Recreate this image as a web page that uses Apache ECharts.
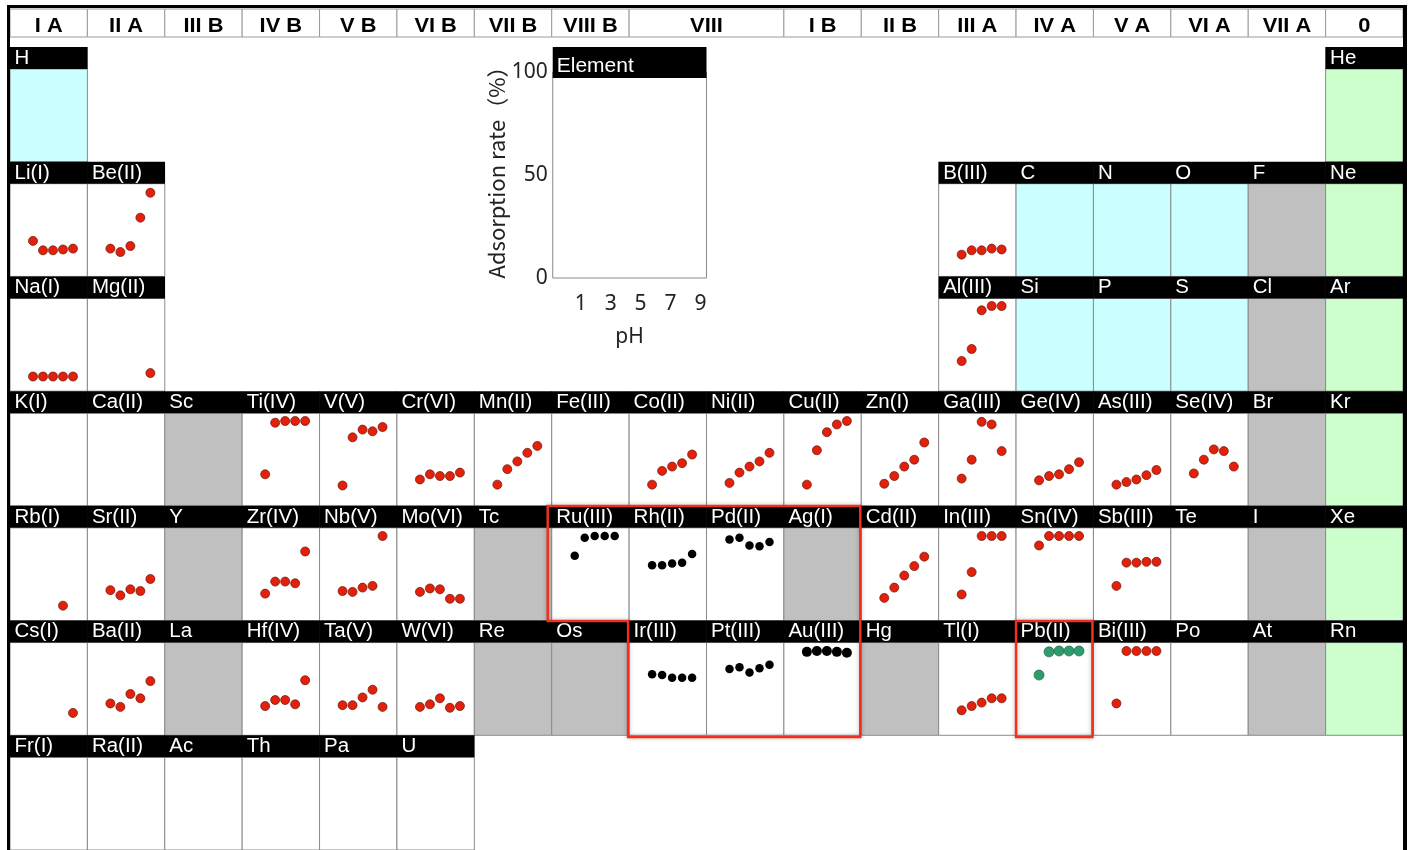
<!DOCTYPE html>
<html><head><meta charset="utf-8">
<script src="https://cdn.jsdelivr.net/npm/echarts@6/dist/echarts.min.js"></script>
<style>html,body{margin:0;padding:0;background:#fff}#chart{width:1409px;height:850px}</style>
</head><body><div id="chart"></div>
<script>
// ---------------- DATA ----------------
const pH = [1, 3, 5, 7, 9];
const legendTicks = [1, 3, 5, 7, 9];
const legendYTicks = [0, 50, 100];

const groupLabels = ['I A','II A','III B','IV B','V B','VI B','VII B','VIII B','VIII','I B','II B','III A','IV A','V A','VI A','VII A','0'];
const groupSpans  = [1,1,1,1,1,1,1,1,2,1,1,1,1,1,1,1,1];

const period1 = ['H','','','','','','','','','','','','','','','','','He'];
const period2 = ['Li(I)','Be(II)','','','','','','','','','','','B(III)','C','N','O','F','Ne'];
const period3 = ['Na(I)','Mg(II)','','','','','','','','','','','Al(III)','Si','P','S','Cl','Ar'];
const period4 = ['K(I)','Ca(II)','Sc','Ti(IV)','V(V)','Cr(VI)','Mn(II)','Fe(III)','Co(II)','Ni(II)','Cu(II)','Zn(I)','Ga(III)','Ge(IV)','As(III)','Se(IV)','Br','Kr'];
const period5 = ['Rb(I)','Sr(II)','Y','Zr(IV)','Nb(V)','Mo(VI)','Tc','Ru(III)','Rh(II)','Pd(II)','Ag(I)','Cd(II)','In(III)','Sn(IV)','Sb(III)','Te','I','Xe'];
const period6 = ['Cs(I)','Ba(II)','La','Hf(IV)','Ta(V)','W(VI)','Re','Os','Ir(III)','Pt(III)','Au(III)','Hg','Tl(I)','Pb(II)','Bi(III)','Po','At','Rn'];
const period7 = ['Fr(I)','Ra(II)','Ac','Th','Pa','U','','','','','','','','','','','',''];
// cell class: w = tested metal, c = non-metal, g = not examined, n = noble gas, . = no cell
const period1Class = 'c................n';
const period2Class = 'ww..........wcccgn';
const period3Class = 'ww..........wcccgn';
const period4Class = 'wwgwwwwwwwwwwwwwgn';
const period5Class = 'wwgwwwgwwwgwwwwwgn';
const period6Class = 'wwgwwwggwwwgwwwwgn';
const period7Class = 'wwwwww............';

// adsorption rate (%) at pH 1,3,5,7,9
const rateLi = [42, 31, 31, 32, 33];
const rateBe = [33, 29, 36, 69, 98];
const rateB  = [26, 31, 31, 33, 32];
const rateNa = [18, 18, 18, 18, 18];
const rateMg = [null, null, null, null, 22];
const rateAl = [36, 50, 95, 100, 100];
const rateTi = [38, 98, 100, 100, 100];
const rateV  = [25, 81, 90, 88, 93];
const rateCr = [32, 38, 36, 36, 40];
const rateMn = [26, 44, 53, 63, 71];
const rateCo = [26, 42, 47, 51, 61];
const rateNi = [28, 40, 47, 53, 63];
const rateCu = [26, 66, 87, 96, 100];
const rateZn = [27, 36, 47, 55, 75];
const rateGa = [33, 55, 99, 96, 65];
const rateGe = [31, 36, 38, 44, 52];
const rateAs = [26, 29, 32, 37, 43];
const rateSe = [39, 55, 67, 65, 47];
const rateRb = [null, null, null, 19, null];
const rateSr = [37, 31, 38, 36, 50];
const rateZr = [33, 47, 47, 45, 82];
const rateNb = [36, 35, 40, 42, 100];
const rateMo = [35, 39, 38, 27, 27];
const rateRu = [77, 98, 100, 100, 100];
const rateRh = [66, 66, 68, 69, 79];
const ratePd = [96, 98, 89, 88, 93];
const rateCd = [28, 40, 54, 65, 76];
const rateIn = [32, 58, 100, 100, 100];
const rateSn = [89, 100, 100, 100, 100];
const rateSb = [42, 69, 69, 70, 70];
const rateCs = [null, null, null, null, 28];
const rateBa = [39, 35, 50, 45, 65];
const rateHf = [36, 43, 43, 38, 66];
const rateTa = [37, 37, 46, 55, 35];
const rateW  = [35, 38, 45, 34, 36];
const rateIr = [73, 72, 69, 69, 69];
const ratePt = [79, 81, 75, 80, 84];
const rateAu = [99, 100, 100, 99, 98];
const rateTl = [31, 36, 40, 45, 45];
const ratePb = [72, 99, 100, 100, 100];
const rateBi = [39, 100, 100, 100, 100];

const preciousMetals = ['Ru(III)','Rh(II)','Pd(II)','Ir(III)','Pt(III)','Au(III)'];
const leadGroup = ['Pb(II)'];
const preciousBlock = [['Ru(III)','Rh(II)','Pd(II)','Ag(I)'], ['Ir(III)','Pt(III)','Au(III)']];
const leadBlock = ['Pb(II)'];

// ---------------- LAYOUT ----------------
const rateByElement = {
  'Li(I)': rateLi, 'Be(II)': rateBe, 'B(III)': rateB, 'Na(I)': rateNa, 'Mg(II)': rateMg, 'Al(III)': rateAl,
  'Ti(IV)': rateTi, 'V(V)': rateV, 'Cr(VI)': rateCr, 'Mn(II)': rateMn, 'Co(II)': rateCo, 'Ni(II)': rateNi,
  'Cu(II)': rateCu, 'Zn(I)': rateZn, 'Ga(III)': rateGa, 'Ge(IV)': rateGe, 'As(III)': rateAs, 'Se(IV)': rateSe,
  'Rb(I)': rateRb, 'Sr(II)': rateSr, 'Zr(IV)': rateZr, 'Nb(V)': rateNb, 'Mo(VI)': rateMo, 'Ru(III)': rateRu,
  'Rh(II)': rateRh, 'Pd(II)': ratePd, 'Cd(II)': rateCd, 'In(III)': rateIn, 'Sn(IV)': rateSn, 'Sb(III)': rateSb,
  'Cs(I)': rateCs, 'Ba(II)': rateBa, 'Hf(IV)': rateHf, 'Ta(V)': rateTa, 'W(VI)': rateW, 'Ir(III)': rateIr,
  'Pt(III)': ratePt, 'Au(III)': rateAu, 'Tl(I)': rateTl, 'Pb(II)': ratePb, 'Bi(III)': rateBi
};
const periods = [period1, period2, period3, period4, period5, period6, period7];
const periodClasses = [period1Class, period2Class, period3Class, period4Class, period5Class, period6Class, period7Class];

const LEFT = 10, TOP = 47, TABLE_W = 1393, NCOL = 18, NROW = 7;
const COL_W = TABLE_W / NCOL, ROW_H = 115, BAR_H = 22;
const PLOT_H = ROW_H - BAR_H, TOP_PAD = 7;
const colX = c => LEFT + c * COL_W;
const rowY = r => TOP + r * ROW_H;
const bgColors = { w: '#ffffff', c: '#ccffff', g: '#c0c0c0', n: '#ccffcc' };
const LABEL_FONT = '"Liberation Sans", Arial, Helvetica, sans-serif';
const AXIS_FONT = '"Noto Sans", "Noto Sans CJK JP", sans-serif';

const cells = [];
periods.forEach((row, r) => {
  row.forEach((name, c) => {
    const cls = periodClasses[r][c];
    if (cls !== '.') cells.push({ name, row: r, col: c, cls });
  });
});
const cellPos = {};
cells.forEach(c => { cellPos[c.name] = c; });

const grids = [{ left: LEFT, top: TOP, width: TABLE_W, height: NROW * ROW_H, show: false }];
const xAxes = [{ gridIndex: 0, type: 'value', min: 0, max: NCOL, show: false }];
const yAxes = [{ gridIndex: 0, type: 'value', min: 0, max: NROW, inverse: true, show: false }];
const series = [{
  type: 'custom', xAxisIndex: 0, yAxisIndex: 0, z: 1, silent: true,
  data: cells.map(c => [c.col, c.row]),
  renderItem: function (params, api) {
    const c = cells[params.dataIndex];
    const p0 = api.coord([c.col, c.row]);
    const p1 = api.coord([c.col + 1, c.row + 1]);
    const w = p1[0] - p0[0];
    return {
      type: 'group',
      children: [
        { type: 'rect', shape: { x: p0[0], y: p0[1] + BAR_H, width: w, height: p1[1] - p0[1] - BAR_H },
          style: { fill: bgColors[c.cls], stroke: '#8a8a8a', lineWidth: 1 } },
        { type: 'rect', shape: { x: p0[0] - 0.3, y: p0[1], width: w + 0.6, height: BAR_H },
          style: { fill: '#000' } },
        { type: 'text', x: p0[0] + 4.5, y: p0[1] + BAR_H / 2 + 0.5, scaleX: 1.05,
          style: { text: c.name, x: 0, y: 0, fill: '#fff',
          fontSize: 19.5, fontFamily: LABEL_FONT, align: 'left', verticalAlign: 'middle' } }
      ]
    };
  }
}];

const yMaxCell = 100 * PLOT_H / (PLOT_H - TOP_PAD);
Object.keys(rateByElement).forEach(name => {
  const c = cellPos[name];
  const gi = grids.length;
  grids.push({ left: colX(c.col), top: rowY(c.row) + BAR_H, width: COL_W, height: PLOT_H, show: false });
  xAxes.push({ gridIndex: gi, type: 'value', min: -3.6, max: 11.88, show: false });
  yAxes.push({ gridIndex: gi, type: 'value', min: 0, max: yMaxCell, show: false });
  const rates = rateByElement[name];
  let style, size;
  if (preciousMetals.includes(name)) {
    style = { color: '#000000', opacity: 1 }; size = name === 'Au(III)' ? 10 : 8.5;
  } else if (leadGroup.includes(name)) {
    style = { color: '#2e9c6c', borderColor: '#1d6846', borderWidth: 0.7, opacity: 1 }; size = 10;
  } else {
    style = { color: '#e2200b', borderColor: '#6a1406', borderWidth: 0.7, opacity: 1 }; size = 9;
  }
  series.push({
    type: 'scatter', xAxisIndex: gi, yAxisIndex: gi, z: 5, silent: true, clip: false,
    symbol: 'circle', symbolSize: size, itemStyle: style,
    data: pH.map((p, k) => [p, rates[k]]).filter(d => d[1] !== null)
  });
});

// legend / example cell
const LG = grids.length;
const legendLeft = colX(7) + 1, legendRight = colX(9);
grids.push({ left: legendLeft, top: 72, width: legendRight - legendLeft, height: 206, show: true,
  backgroundColor: '#fff', borderColor: '#8a8a8a', borderWidth: 1 });
xAxes.push({ gridIndex: LG, type: 'value', min: -0.87, max: 9.4,
  axisLine: { show: false }, axisTick: { show: false }, splitLine: { show: false },
  axisLabel: { customValues: legendTicks, margin: 16, fontSize: 21, color: '#222', fontFamily: AXIS_FONT },
  name: 'pH', nameLocation: 'middle', nameGap: 49,
  nameTextStyle: { fontSize: 21, color: '#222', fontFamily: AXIS_FONT } });
yAxes.push({ gridIndex: LG, type: 'value', min: 0, max: 100,
  axisLine: { show: false }, axisTick: { show: false }, splitLine: { show: false },
  axisLabel: { customValues: legendYTicks, margin: 5, fontSize: 21, color: '#222', fontFamily: AXIS_FONT },
  name: 'Adsorption rate（%）', nameLocation: 'middle', nameGap: 29,
  nameTextStyle: { fontSize: 22, color: '#222', padding: [0, 0, 0, 16],
    fontFamily: '"Noto Sans CJK JP", "Noto Sans", sans-serif' } });

// ---------------- DECORATION ----------------
const graphics = [];
let start = 0;
groupLabels.forEach((g, i) => {
  const x0 = colX(start), x1 = colX(start + groupSpans[i]);
  graphics.push({ type: 'rect', z: 10, shape: { x: x0, y: 9, width: x1 - x0, height: 28 },
    style: { fill: '#fff', stroke: '#9a9a9a', lineWidth: 1 } });
  graphics.push({ type: 'text', z: 11, x: (x0 + x1) / 2, y: 26.5, scaleX: 1.12,
    style: { text: g, x: 0, y: 0, align: 'center', verticalAlign: 'middle',
    fill: '#000', fontSize: 19.5, fontWeight: 'bold', fontFamily: LABEL_FONT } });
  start += groupSpans[i];
});
// outer frame
graphics.push({ type: 'rect', z: 20, shape: { x: 7, y: 5, width: 3, height: 850 }, style: { fill: '#000' } });
graphics.push({ type: 'rect', z: 20, shape: { x: 7, y: 5, width: 1400, height: 3 }, style: { fill: '#000' } });
graphics.push({ type: 'rect', z: 20, shape: { x: LEFT + TABLE_W, y: 5, width: 4, height: 850 }, style: { fill: '#000' } });
// legend label bar
graphics.push({ type: 'rect', z: 12, shape: { x: legendLeft, y: TOP, width: legendRight - legendLeft, height: 31 }, style: { fill: '#000' } });
graphics.push({ type: 'text', z: 13, x: legendLeft + 4, y: TOP + 19, scaleX: 1.05,
  style: { text: 'Element', x: 0, y: 0, fill: '#fff', align: 'left',
  verticalAlign: 'middle', fontSize: 20, fontFamily: LABEL_FONT } });
// highlight outlines
const p5 = cellPos[preciousBlock[0][0]], p5e = cellPos[preciousBlock[0][preciousBlock[0].length - 1]];
const p6 = cellPos[preciousBlock[1][0]];
const boxStyle = { fill: null, stroke: '#f0301c', lineWidth: 2.5, shadowBlur: 4, shadowColor: 'rgba(0,0,0,0.3)' };
graphics.push({ type: 'polygon', z: 30, shape: { points: [
  [colX(p5.col) - 4, rowY(p5.row) - 1], [colX(p5e.col + 1) - 1, rowY(p5.row) - 1],
  [colX(p5e.col + 1) - 1, rowY(p6.row + 1)], [colX(p6.col) - 1, rowY(p6.row + 1)],
  [colX(p6.col) - 1, rowY(p6.row) - 1], [colX(p5.col) - 4, rowY(p6.row) - 1]
] }, style: boxStyle });
const pb = cellPos[leadBlock[0]];
graphics.push({ type: 'rect', z: 30, shape: { x: colX(pb.col), y: rowY(pb.row) - 1, width: COL_W - 1, height: ROW_H + 1 },
  style: boxStyle });

const chart = echarts.init(document.getElementById('chart'), null, { renderer: 'canvas' });
chart.setOption({
  animation: false,
  backgroundColor: '#fff',
  grid: grids, xAxis: xAxes, yAxis: yAxes, series: series, graphic: { elements: graphics }
});
</script></body></html>
